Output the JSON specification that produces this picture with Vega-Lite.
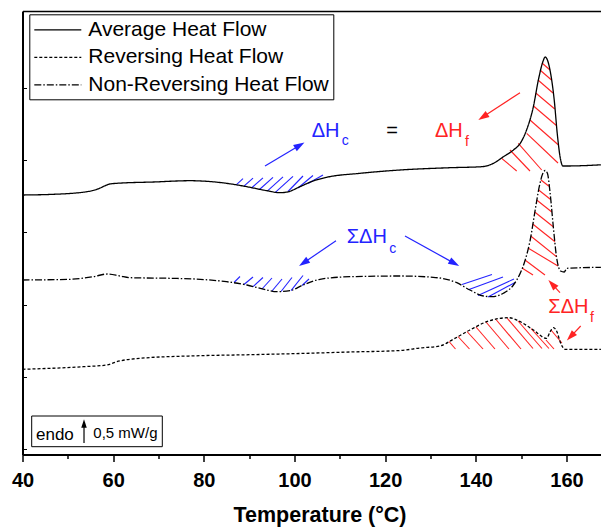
{
  "$schema": "https://vega.github.io/schema/vega-lite/v6.json",
  "width": 579,
  "height": 443.5,
  "autosize": {"type": "none"},
  "padding": {"left": 22.5, "top": 11, "right": 0, "bottom": 73.5},
  "background": "white",
  "config": {
    "view": {"stroke": null},
    "font": "Liberation Sans",
    "axis": {"grid": false, "labelFont": "Liberation Sans", "titleFont": "Liberation Sans", "domainColor": "black", "tickColor": "black", "labelColor": "black", "titleColor": "black"}
  },
  "datasets": {
    "curves": [
      {"series": "Average Heat Flow", "T": 40, "hf": 2.595},
      {"series": "Average Heat Flow", "T": 46.8, "hf": 2.602},
      {"series": "Average Heat Flow", "T": 54.2, "hf": 2.628},
      {"series": "Average Heat Flow", "T": 56.4, "hf": 2.652},
      {"series": "Average Heat Flow", "T": 59.3, "hf": 2.705},
      {"series": "Average Heat Flow", "T": 60.8, "hf": 2.712},
      {"series": "Average Heat Flow", "T": 68.9, "hf": 2.725},
      {"series": "Average Heat Flow", "T": 77.0, "hf": 2.738},
      {"series": "Average Heat Flow", "T": 80.6, "hf": 2.732},
      {"series": "Average Heat Flow", "T": 85.0, "hf": 2.712},
      {"series": "Average Heat Flow", "T": 89.5, "hf": 2.678},
      {"series": "Average Heat Flow", "T": 93.9, "hf": 2.638},
      {"series": "Average Heat Flow", "T": 96.8, "hf": 2.618},
      {"series": "Average Heat Flow", "T": 98.6, "hf": 2.627},
      {"series": "Average Heat Flow", "T": 101.2, "hf": 2.678},
      {"series": "Average Heat Flow", "T": 104.1, "hf": 2.735},
      {"series": "Average Heat Flow", "T": 107.1, "hf": 2.772},
      {"series": "Average Heat Flow", "T": 114.5, "hf": 2.812},
      {"series": "Average Heat Flow", "T": 123.3, "hf": 2.845},
      {"series": "Average Heat Flow", "T": 134.4, "hf": 2.868},
      {"series": "Average Heat Flow", "T": 141.3, "hf": 2.878},
      {"series": "Average Heat Flow", "T": 143.9, "hf": 2.912},
      {"series": "Average Heat Flow", "T": 146.1, "hf": 2.978},
      {"series": "Average Heat Flow", "T": 148.3, "hf": 3.045},
      {"series": "Average Heat Flow", "T": 149.8, "hf": 3.112},
      {"series": "Average Heat Flow", "T": 151.2, "hf": 3.245},
      {"series": "Average Heat Flow", "T": 152.7, "hf": 3.478},
      {"series": "Average Heat Flow", "T": 153.8, "hf": 3.745},
      {"series": "Average Heat Flow", "T": 154.8, "hf": 3.928},
      {"series": "Average Heat Flow", "T": 155.3, "hf": 3.975},
      {"series": "Average Heat Flow", "T": 155.8, "hf": 3.945},
      {"series": "Average Heat Flow", "T": 156.5, "hf": 3.812},
      {"series": "Average Heat Flow", "T": 157.3, "hf": 3.545},
      {"series": "Average Heat Flow", "T": 158.0, "hf": 3.195},
      {"series": "Average Heat Flow", "T": 158.6, "hf": 2.975},
      {"series": "Average Heat Flow", "T": 159.2, "hf": 2.885},
      {"series": "Average Heat Flow", "T": 160.1, "hf": 2.885},
      {"series": "Average Heat Flow", "T": 167.6, "hf": 2.897},
      {"series": "Reversing Heat Flow", "T": 40, "hf": 0.852},
      {"series": "Reversing Heat Flow", "T": 53.4, "hf": 0.878},
      {"series": "Reversing Heat Flow", "T": 58.6, "hf": 0.895},
      {"series": "Reversing Heat Flow", "T": 60.8, "hf": 0.928},
      {"series": "Reversing Heat Flow", "T": 65.9, "hf": 0.962},
      {"series": "Reversing Heat Flow", "T": 79.2, "hf": 0.988},
      {"series": "Reversing Heat Flow", "T": 90.2, "hf": 0.998},
      {"series": "Reversing Heat Flow", "T": 101.2, "hf": 1.01},
      {"series": "Reversing Heat Flow", "T": 112.2, "hf": 1.025},
      {"series": "Reversing Heat Flow", "T": 123.3, "hf": 1.04},
      {"series": "Reversing Heat Flow", "T": 127.7, "hf": 1.065},
      {"series": "Reversing Heat Flow", "T": 132.1, "hf": 1.085},
      {"series": "Reversing Heat Flow", "T": 135.0, "hf": 1.152},
      {"series": "Reversing Heat Flow", "T": 138.7, "hf": 1.245},
      {"series": "Reversing Heat Flow", "T": 142.4, "hf": 1.328},
      {"series": "Reversing Heat Flow", "T": 147.2, "hf": 1.368},
      {"series": "Reversing Heat Flow", "T": 149.8, "hf": 1.328},
      {"series": "Reversing Heat Flow", "T": 152.7, "hf": 1.245},
      {"series": "Reversing Heat Flow", "T": 155.6, "hf": 1.162},
      {"series": "Reversing Heat Flow", "T": 156.4, "hf": 1.228},
      {"series": "Reversing Heat Flow", "T": 157.1, "hf": 1.268},
      {"series": "Reversing Heat Flow", "T": 157.9, "hf": 1.228},
      {"series": "Reversing Heat Flow", "T": 158.6, "hf": 1.128},
      {"series": "Reversing Heat Flow", "T": 159.7, "hf": 1.052},
      {"series": "Reversing Heat Flow", "T": 167.6, "hf": 1.052},
      {"series": "Non-Reversing Heat Flow", "T": 40, "hf": 1.745},
      {"series": "Non-Reversing Heat Flow", "T": 50.5, "hf": 1.752},
      {"series": "Non-Reversing Heat Flow", "T": 55.6, "hf": 1.778},
      {"series": "Non-Reversing Heat Flow", "T": 58.7, "hf": 1.805},
      {"series": "Non-Reversing Heat Flow", "T": 61.5, "hf": 1.785},
      {"series": "Non-Reversing Heat Flow", "T": 63.7, "hf": 1.768},
      {"series": "Non-Reversing Heat Flow", "T": 72.5, "hf": 1.762},
      {"series": "Non-Reversing Heat Flow", "T": 79.2, "hf": 1.752},
      {"series": "Non-Reversing Heat Flow", "T": 85.0, "hf": 1.728},
      {"series": "Non-Reversing Heat Flow", "T": 89.5, "hf": 1.695},
      {"series": "Non-Reversing Heat Flow", "T": 93.9, "hf": 1.645},
      {"series": "Non-Reversing Heat Flow", "T": 96.1, "hf": 1.628},
      {"series": "Non-Reversing Heat Flow", "T": 99.0, "hf": 1.638},
      {"series": "Non-Reversing Heat Flow", "T": 101.9, "hf": 1.695},
      {"series": "Non-Reversing Heat Flow", "T": 105.6, "hf": 1.752},
      {"series": "Non-Reversing Heat Flow", "T": 112.2, "hf": 1.778},
      {"series": "Non-Reversing Heat Flow", "T": 123.3, "hf": 1.785},
      {"series": "Non-Reversing Heat Flow", "T": 130.6, "hf": 1.772},
      {"series": "Non-Reversing Heat Flow", "T": 135.8, "hf": 1.718},
      {"series": "Non-Reversing Heat Flow", "T": 138.7, "hf": 1.645},
      {"series": "Non-Reversing Heat Flow", "T": 141.7, "hf": 1.585},
      {"series": "Non-Reversing Heat Flow", "T": 143.5, "hf": 1.578},
      {"series": "Non-Reversing Heat Flow", "T": 146.1, "hf": 1.612},
      {"series": "Non-Reversing Heat Flow", "T": 148.3, "hf": 1.695},
      {"series": "Non-Reversing Heat Flow", "T": 149.8, "hf": 1.812},
      {"series": "Non-Reversing Heat Flow", "T": 150.9, "hf": 1.945},
      {"series": "Non-Reversing Heat Flow", "T": 152.0, "hf": 2.145},
      {"series": "Non-Reversing Heat Flow", "T": 153.1, "hf": 2.445},
      {"series": "Non-Reversing Heat Flow", "T": 154.0, "hf": 2.678},
      {"series": "Non-Reversing Heat Flow", "T": 154.8, "hf": 2.812},
      {"series": "Non-Reversing Heat Flow", "T": 155.3, "hf": 2.84},
      {"series": "Non-Reversing Heat Flow", "T": 155.8, "hf": 2.812},
      {"series": "Non-Reversing Heat Flow", "T": 156.4, "hf": 2.612},
      {"series": "Non-Reversing Heat Flow", "T": 157.1, "hf": 2.278},
      {"series": "Non-Reversing Heat Flow", "T": 157.8, "hf": 1.978},
      {"series": "Non-Reversing Heat Flow", "T": 158.7, "hf": 1.835},
      {"series": "Non-Reversing Heat Flow", "T": 159.5, "hf": 1.825},
      {"series": "Non-Reversing Heat Flow", "T": 160.1, "hf": 1.862},
      {"series": "Non-Reversing Heat Flow", "T": 167.6, "hf": 1.872}
    ],
    "hatches": [
      {"heat": "crystallization", "T": 87.21, "hf": 2.699, "T2": 88.64, "hf2": 2.758},
      {"heat": "crystallization", "T": 88.86, "hf": 2.683, "T2": 90.85, "hf2": 2.763},
      {"heat": "crystallization", "T": 90.52, "hf": 2.665, "T2": 93.05, "hf2": 2.767},
      {"heat": "crystallization", "T": 92.28, "hf": 2.65, "T2": 95.26, "hf2": 2.772},
      {"heat": "crystallization", "T": 94.05, "hf": 2.637, "T2": 97.47, "hf2": 2.776},
      {"heat": "crystallization", "T": 95.77, "hf": 2.622, "T2": 99.67, "hf2": 2.781},
      {"heat": "crystallization", "T": 98.57, "hf": 2.63, "T2": 101.88, "hf2": 2.785},
      {"heat": "crystallization", "T": 100.78, "hf": 2.665, "T2": 104.08, "hf2": 2.79},
      {"heat": "crystallization", "T": 102.98, "hf": 2.71, "T2": 106.29, "hf2": 2.795},
      {"heat": "melting", "T": 145.71, "hf": 2.962, "T2": 149.02, "hf2": 2.835},
      {"heat": "melting", "T": 147.54, "hf": 3.045, "T2": 151.95, "hf2": 2.835},
      {"heat": "melting", "T": 149.37, "hf": 3.112, "T2": 154.54, "hf2": 2.845},
      {"heat": "melting", "T": 151.23, "hf": 3.212, "T2": 158.13, "hf2": 2.915},
      {"heat": "melting", "T": 151.95, "hf": 3.345, "T2": 158.24, "hf2": 3.095},
      {"heat": "melting", "T": 152.73, "hf": 3.485, "T2": 157.78, "hf2": 3.29},
      {"heat": "melting", "T": 153.23, "hf": 3.615, "T2": 157.42, "hf2": 3.455},
      {"heat": "melting", "T": 153.72, "hf": 3.745, "T2": 157.03, "hf2": 3.615},
      {"heat": "melting", "T": 154.16, "hf": 3.845, "T2": 156.7, "hf2": 3.745},
      {"heat": "melting", "T": 154.6, "hf": 3.915, "T2": 156.37, "hf2": 3.845},
      {"heat": "crystallization", "T": 86.66, "hf": 1.72, "T2": 87.98, "hf2": 1.78},
      {"heat": "crystallization", "T": 88.86, "hf": 1.7, "T2": 90.85, "hf2": 1.775},
      {"heat": "crystallization", "T": 90.85, "hf": 1.678, "T2": 93.05, "hf2": 1.77},
      {"heat": "crystallization", "T": 92.83, "hf": 1.655, "T2": 95.04, "hf2": 1.765},
      {"heat": "crystallization", "T": 95.04, "hf": 1.635, "T2": 97.25, "hf2": 1.755},
      {"heat": "crystallization", "T": 97.03, "hf": 1.63, "T2": 99.45, "hf2": 1.77},
      {"heat": "crystallization", "T": 99.23, "hf": 1.639, "T2": 101.88, "hf2": 1.79},
      {"heat": "crystallization", "T": 101.66, "hf": 1.69, "T2": 103.2, "hf2": 1.755},
      {"heat": "crystallization", "T": 136.95, "hf": 1.7, "T2": 143.57, "hf2": 1.8},
      {"heat": "crystallization", "T": 138.5, "hf": 1.65, "T2": 146.0, "hf2": 1.775},
      {"heat": "crystallization", "T": 140.48, "hf": 1.59, "T2": 148.42, "hf2": 1.755},
      {"heat": "crystallization", "T": 142.69, "hf": 1.575, "T2": 148.65, "hf2": 1.72},
      {"heat": "melting", "T": 154.38, "hf": 2.745, "T2": 156.14, "hf2": 2.682},
      {"heat": "melting", "T": 153.87, "hf": 2.645, "T2": 156.5, "hf2": 2.55},
      {"heat": "melting", "T": 153.43, "hf": 2.545, "T2": 156.77, "hf2": 2.425},
      {"heat": "melting", "T": 152.99, "hf": 2.425, "T2": 157.09, "hf2": 2.277},
      {"heat": "melting", "T": 152.55, "hf": 2.305, "T2": 157.47, "hf2": 2.127},
      {"heat": "melting", "T": 152.11, "hf": 2.185, "T2": 157.84, "hf2": 1.977},
      {"heat": "melting", "T": 151.51, "hf": 2.065, "T2": 158.13, "hf2": 1.885},
      {"heat": "melting", "T": 150.85, "hf": 1.945, "T2": 155.26, "hf2": 1.795},
      {"heat": "melting", "T": 150.19, "hf": 1.865, "T2": 152.62, "hf2": 1.795},
      {"heat": "melting", "T": 134.09, "hf": 1.13, "T2": 135.52, "hf2": 1.055},
      {"heat": "melting", "T": 136.07, "hf": 1.18, "T2": 138.61, "hf2": 1.055},
      {"heat": "melting", "T": 138.06, "hf": 1.23, "T2": 141.59, "hf2": 1.055},
      {"heat": "melting", "T": 140.04, "hf": 1.275, "T2": 144.23, "hf2": 1.055},
      {"heat": "melting", "T": 142.25, "hf": 1.325, "T2": 147.32, "hf2": 1.055},
      {"heat": "melting", "T": 144.45, "hf": 1.35, "T2": 149.97, "hf2": 1.055},
      {"heat": "melting", "T": 146.88, "hf": 1.365, "T2": 152.62, "hf2": 1.06},
      {"heat": "melting", "T": 149.31, "hf": 1.335, "T2": 154.6, "hf2": 1.06},
      {"heat": "melting", "T": 152.17, "hf": 1.26, "T2": 156.14, "hf2": 1.06},
      {"heat": "melting", "T": 155.48, "hf": 1.145, "T2": 157.25, "hf2": 1.055},
      {"heat": "melting", "T": 156.59, "hf": 1.245, "T2": 158.99, "hf2": 1.115}
    ],
    "arrows": [
      {"heat": "crystallization", "T": 93.5, "hf": 2.885, "T2": 101.46, "hf2": 3.1, "angle": 59.2},
      {"heat": "melting", "T": 149.75, "hf": 3.618, "T2": 141.28, "hf2": 3.367, "angle": 236.8},
      {"heat": "crystallization", "T": 109.16, "hf": 2.138, "T2": 101.72, "hf2": 1.907, "angle": 235.9},
      {"heat": "crystallization", "T": 124.38, "hf": 2.185, "T2": 135.59, "hf2": 1.904, "angle": 118.9},
      {"heat": "melting", "T": 158.57, "hf": 1.618, "T2": 156.59, "hf2": 1.716, "angle": 317.4},
      {"heat": "melting", "T": 163.14, "hf": 1.285, "T2": 160.67, "hf2": 1.167, "angle": 223.6}
    ],
    "labels": [
      {"heat": "crystallization", "role": "main", "text": "ΔH", "T": 103.8, "hf": 3.178},
      {"heat": "crystallization", "role": "sub", "text": "c", "T": 110.42, "hf": 3.095},
      {"heat": "none", "role": "main", "text": "=", "T": 120.25, "hf": 3.178},
      {"heat": "melting", "role": "main", "text": "ΔH", "T": 131.0, "hf": 3.178},
      {"heat": "melting", "role": "sub", "text": "f", "T": 137.61, "hf": 3.085},
      {"heat": "crystallization", "role": "main", "text": "ΣΔH", "T": 111.52, "hf": 2.118},
      {"heat": "crystallization", "role": "sub", "text": "c", "T": 120.92, "hf": 2.018},
      {"heat": "melting", "role": "main", "text": "ΣΔH", "T": 155.99, "hf": 1.412},
      {"heat": "melting", "role": "sub", "text": "f", "T": 165.2, "hf": 1.328}
    ],
    "scalebar": [
      {"T": 42.03, "T2": 70.84, "hf": 0.078, "hf2": 0.385, "T3": 53.57, "hfa": 0.115, "hfb": 0.322}
    ],
    "scalenotes": [
      {"text": "endo", "role": "word", "T": 42.98, "hf": 0.145},
      {"text": "0,5 mW/g", "role": "value", "T": 55.62, "hf": 0.165}
    ]
  },
  "resolve": {"axis": {"x": "independent", "y": "independent"}},
  "encoding": {
    "x": {"type": "quantitative", "scale": {"domain": [40, 167.73], "nice": false, "zero": false}},
    "y": {"type": "quantitative", "scale": {"domain": [0, 4.435], "nice": false, "zero": false}}
  },
  "layer": [
    {
      "data": {"name": "hatches"},
      "mark": {"type": "rule", "strokeWidth": 1.1},
      "encoding": {
        "x": {"field": "T", "type": "quantitative", "axis": {"orient": "bottom", "values": [50, 70, 90, 110, 130, 150], "labels": false, "domain": false, "tickSize": 4, "tickWidth": 1.5, "title": null}},
        "y": {"field": "hf", "type": "quantitative", "axis": null},
        "x2": {"field": "T2"},
        "y2": {"field": "hf2"},
        "color": {"field": "heat", "type": "nominal", "scale": {"domain": ["crystallization", "melting", "none"], "range": ["#2323ff", "#ff2323", "#000000"]}, "legend": null}
      }
    },
    {
      "data": {"name": "curves"},
      "mark": {"type": "line", "interpolate": "monotone", "strokeWidth": 1.3, "color": "black"},
      "encoding": {
        "x": {"field": "T", "type": "quantitative", "axis": {"orient": "bottom", "values": [40, 60, 80, 100, 120, 140, 160], "domainWidth": 2, "tickSize": 7, "tickWidth": 1.5, "labelFontSize": 20, "labelFontWeight": "bold", "labelBaseline": "alphabetic", "labelPadding": 25, "labelFlush": false, "title": "Temperature (°C)", "titleFontSize": 21.5, "titleFontWeight": "bold", "titleX": 297, "titleY": 67, "titleBaseline": "alphabetic", "titleAlign": "center"}},
        "y": {"field": "hf", "type": "quantitative", "axis": {"orient": "left", "values": [0.055, 0.775, 1.495, 2.225, 2.945, 3.665], "labels": false, "domainWidth": 2, "tickSize": -4, "tickWidth": 1, "title": null}},
        "strokeDash": {"field": "series", "type": "nominal", "scale": {"domain": ["Average Heat Flow", "Reversing Heat Flow", "Non-Reversing Heat Flow"], "range": [[1, 0], [3, 2], [7, 2, 1.5, 2]]},
          "legend": {"orient": "none", "legendX": 6.8, "legendY": 3.3, "title": null, "strokeColor": "black", "fillColor": "white", "padding": 4, "symbolType": "M-1,0L3.476,0", "symbolSize": 441, "symbolStrokeWidth": 1.2, "symbolStrokeColor": "black", "symbolFillColor": "transparent", "labelFontSize": 21, "labelFont": "Liberation Sans", "labelColor": "black", "labelOffset": 32, "labelLimit": 0, "rowPadding": 5.5}}
      }
    },
    {
      "data": {"name": "arrows"},
      "mark": {"type": "rule", "strokeWidth": 1.2},
      "encoding": {
        "x": {"field": "T", "type": "quantitative", "axis": {"orient": "top", "labels": false, "ticks": false, "domainWidth": 1.5, "title": null}},
        "y": {"field": "hf", "type": "quantitative", "axis": null},
        "x2": {"field": "T2"},
        "y2": {"field": "hf2"},
        "color": {"field": "heat", "type": "nominal", "legend": null}
      }
    },
    {
      "data": {"name": "arrows"},
      "mark": {"type": "point", "shape": "M0,-0.6L0.55,1.1L-0.55,1.1Z", "filled": true, "opacity": 1, "size": 169},
      "encoding": {
        "x": {"field": "T2", "type": "quantitative", "axis": null},
        "y": {"field": "hf2", "type": "quantitative", "axis": null},
        "angle": {"field": "angle", "type": "quantitative", "scale": null},
        "color": {"field": "heat", "type": "nominal", "legend": null}
      }
    },
    {
      "data": {"name": "labels"},
      "transform": [{"filter": "datum.role === 'main'"}],
      "mark": {"type": "text", "align": "left", "baseline": "alphabetic", "fontSize": 20, "font": "Liberation Sans"},
      "encoding": {
        "x": {"field": "T", "type": "quantitative", "axis": null},
        "y": {"field": "hf", "type": "quantitative", "axis": null},
        "text": {"field": "text"},
        "color": {"field": "heat", "type": "nominal", "legend": null}
      }
    },
    {
      "data": {"name": "labels"},
      "transform": [{"filter": "datum.role === 'sub'"}],
      "mark": {"type": "text", "align": "left", "baseline": "alphabetic", "fontSize": 14, "font": "Liberation Sans"},
      "encoding": {
        "x": {"field": "T", "type": "quantitative", "axis": null},
        "y": {"field": "hf", "type": "quantitative", "axis": null},
        "text": {"field": "text"},
        "color": {"field": "heat", "type": "nominal", "legend": null}
      }
    },
    {
      "data": {"name": "scalebar"},
      "mark": {"type": "rect", "fill": "white", "stroke": "black", "strokeWidth": 1},
      "encoding": {
        "x": {"field": "T", "type": "quantitative", "axis": null},
        "x2": {"field": "T2"},
        "y": {"field": "hf", "type": "quantitative", "axis": null},
        "y2": {"field": "hf2"}
      }
    },
    {
      "data": {"name": "scalebar"},
      "mark": {"type": "rule", "strokeWidth": 1.2, "color": "black"},
      "encoding": {
        "x": {"field": "T3", "type": "quantitative", "axis": null},
        "y": {"field": "hfa", "type": "quantitative", "axis": null},
        "y2": {"field": "hfb"}
      }
    },
    {
      "data": {"name": "scalebar"},
      "mark": {"type": "point", "shape": "M0,-0.6L0.55,1.1L-0.55,1.1Z", "filled": true, "opacity": 1, "size": 100, "color": "black"},
      "encoding": {
        "x": {"field": "T3", "type": "quantitative", "axis": null},
        "y": {"field": "hfb", "type": "quantitative", "axis": null}
      }
    },
    {
      "data": {"name": "scalenotes"},
      "transform": [{"filter": "datum.role === 'word'"}],
      "mark": {"type": "text", "align": "left", "baseline": "alphabetic", "fontSize": 17, "font": "Liberation Sans", "color": "black"},
      "encoding": {
        "x": {"field": "T", "type": "quantitative", "axis": null},
        "y": {"field": "hf", "type": "quantitative", "axis": null},
        "text": {"field": "text"}
      }
    },
    {
      "data": {"name": "scalenotes"},
      "transform": [{"filter": "datum.role === 'value'"}],
      "mark": {"type": "text", "align": "left", "baseline": "alphabetic", "fontSize": 15, "font": "Liberation Sans", "color": "black"},
      "encoding": {
        "x": {"field": "T", "type": "quantitative", "axis": null},
        "y": {"field": "hf", "type": "quantitative", "axis": null},
        "text": {"field": "text"}
      }
    }
  ]
}
